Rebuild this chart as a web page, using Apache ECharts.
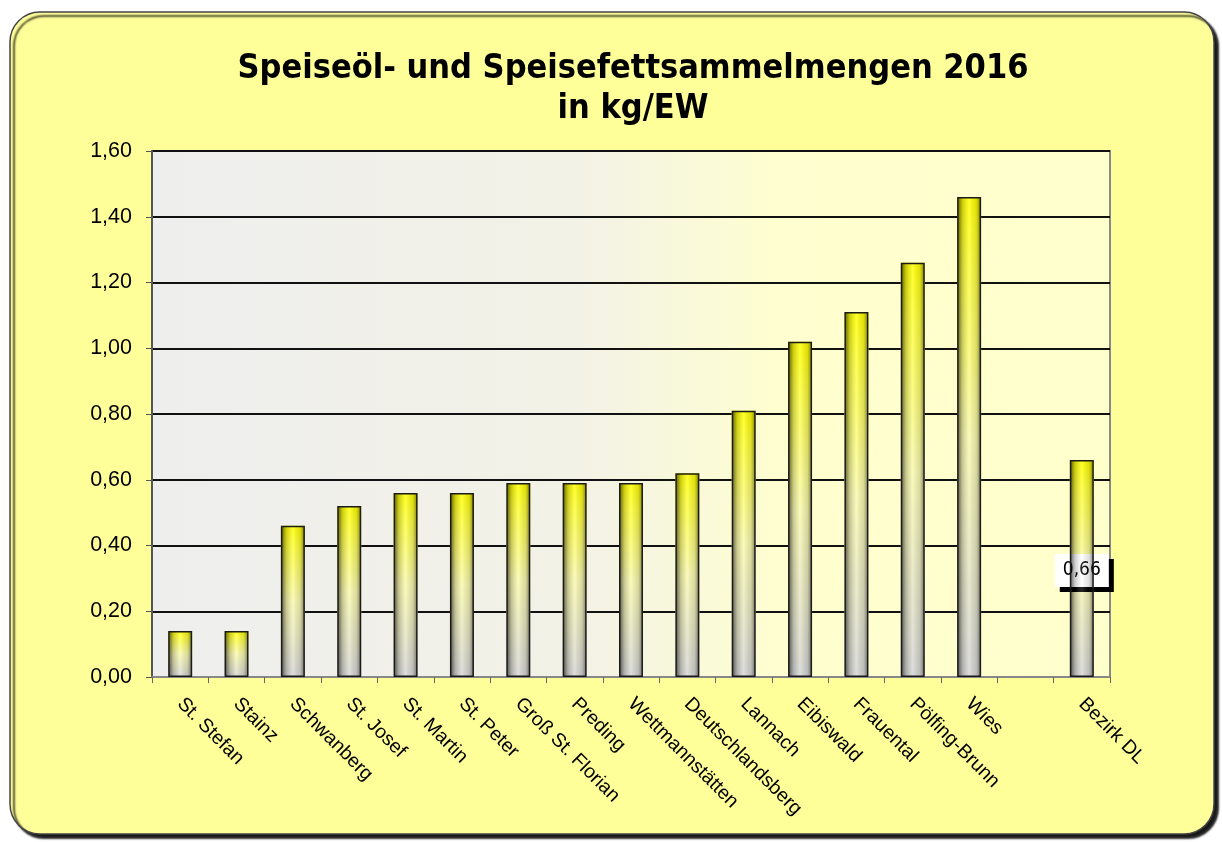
<!DOCTYPE html>
<html><head><meta charset="utf-8">
<script src="https://cdn.jsdelivr.net/npm/echarts@6/dist/echarts.min.js"></script>
<style>html,body{margin:0;padding:0;background:#fff}#c{width:1222px;height:842px}</style>
</head><body><div id="c"></div>
<script>
const titleText = 'Speiseöl- und Speisefettsammelmengen 2016\nin kg/EW';
const categories = ['St. Stefan','Stainz','Schwanberg','St. Josef','St. Martin','St. Peter','Groß St. Florian','Preding','Wettmannstätten','Deutschlandsberg','Lannach','Eibiswald','Frauental','Pölfing-Brunn','Wies','','Bezirk DL'];
const values = [0.14,0.14,0.46,0.52,0.56,0.56,0.59,0.59,0.59,0.62,0.81,1.02,1.11,1.26,1.46,null,0.66];
const labelledIndex = 16;
const yTicks = {min:0, max:1.6, interval:0.2};

const fmt = v => Number(v).toFixed(2).replace('.', ',');
const chart = echarts.init(document.getElementById('c'), null, {renderer:'canvas'});

const baseData = values.map((v,i)=> i===labelledIndex ? {
  value:v,
  label:{show:true, position:'inside', offset:[0,2], formatter:p=>fmt(p.value),
    fontFamily:'DejaVu Sans Condensed, DejaVu Sans', fontSize:19, color:'#000',
    backgroundColor:'#fff', padding:[8,8,6,8],
    shadowColor:'#000', shadowOffsetX:5, shadowOffsetY:5, shadowBlur:0}
} : v);

chart.setOption({
  backgroundColor:'#fff',
  animation:false,
  graphic:[{
    type:'rect', z:-100, silent:true,
    shape:{x:10, y:12, width:1204, height:822, r:30},
    style:{fill:'#FFFF99', stroke:'#444', lineWidth:1.5, shadowColor:'rgba(0,0,0,0.9)', shadowOffsetX:4, shadowOffsetY:4, shadowBlur:2}
  }],
  title:{
    text:titleText, left:628, textAlign:'center', top:44,
    textStyle:{fontFamily:'DejaVu Sans Condensed, DejaVu Sans', fontWeight:'bold', fontSize:34, lineHeight:40, color:'#000'}
  },
  grid:{
    left:152, right:112, top:151, bottom:165, show:true,
    backgroundColor:new echarts.graphic.LinearGradient(0,0,1,0,[{offset:0,color:'#EEEEEE'},{offset:0.45,color:'#F3F2E6'},{offset:0.65,color:'#FEFED0'},{offset:1,color:'#FFFFCC'}]),
    borderColor:'#888', borderWidth:2
  },
  xAxis:{
    type:'category', data:categories,
    axisLine:{lineStyle:{color:'#888', width:2}},
    axisTick:{show:true, length:6, lineStyle:{color:'#666', width:1}},
    axisLabel:{interval:0, rotate:-45, margin:24, fontFamily:'Liberation Sans, Arial', fontSize:19.5, color:'#000'}
  },
  yAxis:{
    type:'value', min:yTicks.min, max:yTicks.max, interval:yTicks.interval,
    axisLine:{show:true, lineStyle:{color:'#555', width:2}},
    axisTick:{show:true, length:6, lineStyle:{color:'#555', width:1}},
    axisLabel:{formatter:v=>fmt(v), margin:20, fontFamily:'Liberation Sans, Arial', fontSize:21.5, color:'#000'},
    splitLine:{show:true, lineStyle:{color:'#111', width:2}}
  },
  series:[{
    type:'bar', data:baseData, barWidth:24, z:2,
    itemStyle:{color:new echarts.graphic.LinearGradient(0,0,0,1,[{offset:0,color:'#FFFF00'},{offset:0.12,color:'#FFFF33'},{offset:0.5,color:'#FAFAB0'},{offset:1,color:'#D6D6D6'}])}
  },{
    type:'bar', data:values, barWidth:24, barGap:'-100%', z:3, silent:true,
    itemStyle:{
      color:new echarts.graphic.LinearGradient(0,0,1,0,[{offset:0,color:'rgba(0,0,0,0.65)'},{offset:0.22,color:'rgba(0,0,0,0.2)'},{offset:0.5,color:'rgba(255,255,255,0.15)'},{offset:0.8,color:'rgba(0,0,0,0.12)'},{offset:1,color:'rgba(0,0,0,0.5)'}]),
      borderColor:'#1a1a1a', borderWidth:1.5
    }
  }]
});
</script></body></html>
